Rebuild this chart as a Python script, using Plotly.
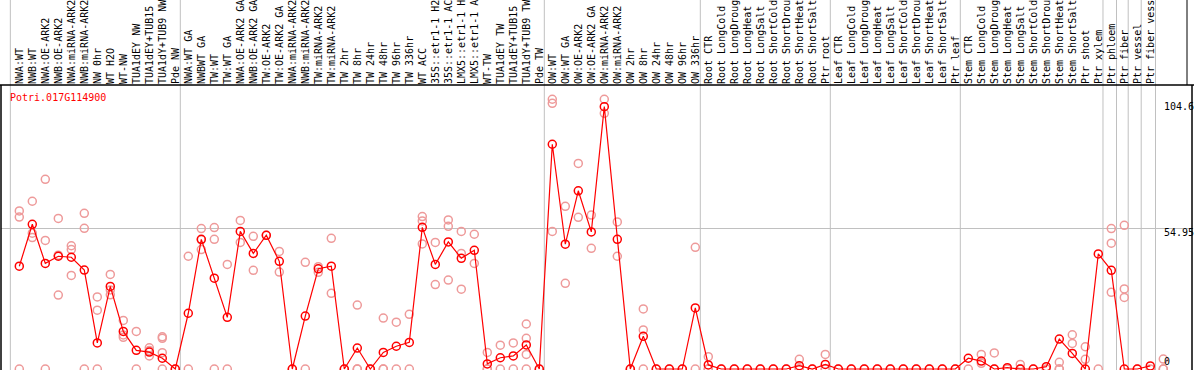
import plotly.graph_objects as go

gene = "Potri.017G114900"

samples = [
    "NWA:WT", "NWB:WT", "NWA:OE-ARK2", "NWB:OE-ARK2", "NWA:miRNA-ARK2", "NWB:miRNA-ARK2",
    "NW 0hr", "WT H2O", "WT-NW", "TUA1dEY NW", "TUA1dEY+TUB15 NW", "TUA1dY+TUB9 NW", "Pde NW",
    "NWA:WT GA", "NWBWT GA", "TW:WT", "TW:WT GA", "NWA:OE-ARK2 GA", "NWB:OE-ARK2 GA",
    "TW:OE-ARK2", "TW:OE-ARK2 GA", "NWA:miRNA-ARK2", "NWB:miRNA-ARK2", "TW:miRNA-ARK2",
    "TW:miRNA-ARK2", "TW 2hr", "TW 8hr", "TW 24hr", "TW 48hr", "TW 96hr", "TW 336hr",
    "WT ACC", "35S::etr1-1 H2O", "35S::etr1-1 ACC", "LMX5::etr1-1 H2O", "LMX5::etr1-1 ACC",
    "WT-TW", "TUA1dEY TW", "TUA1dEY+TUB15 TW", "TUA1dY+TUB9 TW", "Pde TW",
    "OW:WT", "OW:WT GA", "OW:OE-ARK2", "OW:OE-ARK2 GA", "OW:miRNA-ARK2", "OW:miRNA-ARK2",
    "OW 2hr", "OW 8hr", "OW 24hr", "OW 48hr", "OW 96hr", "OW 336hr",
    "Root CTR", "Root LongCold", "Root LongDrought", "Root LongHeat", "Root LongSalt",
    "Root ShortCold", "Root ShortDrought", "Root ShortHeat", "Root ShortSalt", "Ptr root",
    "Leaf CTR", "Leaf LongCold", "Leaf LongDrought", "Leaf LongHeat", "Leaf LongSalt",
    "Leaf ShortCold", "Leaf ShortDrought", "Leaf ShortHeat", "Leaf ShortSalt", "Ptr leaf",
    "Stem CTR", "Stem LongCold", "Stem LongDrought", "Stem LongHeat", "Stem LongSalt",
    "Stem ShortCold", "Stem ShortDrought", "Stem ShortHeat", "Stem ShortSalt", "Ptr shoot",
    "Ptr xylem", "Ptr phloem", "Ptr fiber", "Ptr vessel", "Ptr fiber vessel",
]

mean_values = [
    40.2, 56.6, 41.3, 44.1, 43.7, 38.7, 10.2, 32.3, 14.7, 7.3, 6.6, 4.2, 0,
    21.8, 50.7, 35.5, 20.2, 53.8, 45.2, 52.3, 42.1, 0, 20.7, 39.2, 40.2, 0,
    8.2, 0, 6.5, 8.9, 10.4, 55.4, 40.9, 49.7, 43.3, 46.4, 2.0, 4.4, 5.1, 9.4, 0,
    87.9, 48.8, 69.7, 53.6, 102.6, 50.7, 0, 12.8, 0, 0, 0, 23.9,
    1.6, 0, 0, 0, 0, 0, 0, 1.3, 0, 1.8,
    0, 0, 0, 0, 0, 0, 0, 0, 0, 0,
    4.2, 3.1, 0, 0.5, 0, 0, 0.9, 11.7, 6.1, 0,
    45.0, 38.6, 0, 0, 1.2,
]

replicate_values = [
    [61.8, 59.4, 0], [65.6, 53.1, 51.4], [74.2, 50.3, 0], [58.9, 28.9, 44.5],
    [48.2, 46.7, 36.6], [60.9, 55.0, 0], [28.2, 23.0, 0], [37.0, 29.0, 30.9],
    [19.0, 13.3, 12.4], [14.7, 0], [8.3, 7.2, 5.1], [12.6, 12.0, 6.4, 0], [0],
    [44.1, 0], [54.9, 46.7, 50.5], [55.3, 50.7, 0], [40.9, 0], [58.1, 49.5],
    [51.9, 38.6], [52.3], [46.0, 37.9], [0], [41.7, 0], [40.0, 37.8],
    [51.1, 29.6], [0], [25.0, 0, 0], [0], [19.9, 0, 0], [18.3, 0], [21.4, 0],
    [59.6, 57.9, 48.9], [49.5, 33.0], [58.3, 55.8, 34.8], [53.8, 45.2, 31.2],
    [52.7, 41.3], [6.5, 0, 0], [9.3, 0], [10.2, 0], [17.6, 12.0, 5.7, 0], [0],
    [105.5, 103.9, 53.8], [63.6, 33.5], [80.4, 59.3], [60.2, 47.2],
    [105.5, 100.0], [57.5, 44.1], [0], [23.5, 15.3, 0], [0], [0], [0],
    [47.6, 0], [4.8, 0, 0],
    [0], [0], [0], [0], [0], [0], [3.8, 0, 0], [0], [5.7, 0, 0], [0],
    [0], [0], [0], [0], [0], [0], [0], [0], [0], [0],
    [5.7, 2.2], [6.3, 0], [0], [1.8, 0, 0], [0], [0], [2.6, 0, 0],
    [13.4, 10.0], [8.7, 3.8], [0],
    [54.9, 49.2, 30.0], [56.2, 31.3, 28.0], [0], [0], [3.9, 0, 0],
]

y_tick_vals = [104.6, 54.95, 0]
y_tick_text = ["104.6", "54.95", "0"]

# group separators (positions between samples)
separators = [-0.69, 12.385, 40.385, 52.385, 62.385, 72.385, 83.36, 84.4, 85.3, 86.3, 87.4]

FONT = "DejaVu Sans Mono"
W, H = 1194, 370
ML, MR, MT, MB = 1, 2, 85, 0
pw = W - ML - MR
ph = H - MT - MB
px_per_unit = 13.0
x0 = -(19.3 - ML) / px_per_unit
x1 = x0 + pw / px_per_unit
ypx = 2.557
y0 = -(H - 369) / ypx
y1 = y0 + ph / ypx

x_idx = list(range(len(samples)))
rep_x, rep_y = [], []
for i, reps in enumerate(replicate_values):
    for v in reps:
        rep_x.append(i)
        rep_y.append(v)

fig = go.Figure()
fig.add_trace(go.Scatter(
    x=rep_x, y=rep_y, mode="markers",
    marker=dict(symbol="circle-open", size=8, color="#ee9a9a", line=dict(width=1.5, color="#ee9a9a")),
    hoverinfo="skip",
))
fig.add_trace(go.Scatter(
    x=x_idx, y=mean_values, mode="lines+markers",
    line=dict(color="#ff0000", width=1.2),
    marker=dict(symbol="circle-open", size=8, color="#ff0000", line=dict(width=1.5, color="#ff0000")),
))

shapes = []
top_paper = 1 + MT / ph
for s in separators:
    shapes.append(dict(type="line", xref="x", yref="paper", x0=s, x1=s, y0=0, y1=top_paper,
                       line=dict(color="#c0c0c0", width=1), layer="below"))
# black frame lines
shapes.append(dict(type="line", xref="paper", yref="paper", x0=-ML / pw, x1=1 + MR / pw, y0=1, y1=1,
                   line=dict(color="black", width=1.5)))
shapes.append(dict(type="line", xref="paper", yref="paper", x0=0, x1=0, y0=0, y1=1,
                   line=dict(color="black", width=1.5)))
shapes.append(dict(type="line", xref="paper", yref="paper", x0=1, x1=1, y0=0, y1=1,
                   line=dict(color="black", width=1.5)))
shapes.append(dict(type="line", xref="paper", yref="paper", x0=(1187 - ML) / pw, x1=(1187 - ML) / pw,
                   y0=1, y1=top_paper, line=dict(color="black", width=1)))

annotations = []
lab_x = (1163 - ML) / pw
for v, t in zip(y_tick_vals, y_tick_text):
    annotations.append(dict(
        x=lab_x, xref="paper", y=v, yref="y", text=t, showarrow=False,
        xanchor="left", yanchor="bottom" if v == 0 else "top",
        yshift=1 if v == 0 else 2, borderpad=0,
        font=dict(family=FONT, size=10, color="black"),
    ))
annotations.append(dict(
    x=(9 - ML) / pw, xref="paper", y=1 - (97.3 - MT) / ph, yref="paper", text=gene,
    showarrow=False, xanchor="left", yanchor="middle", borderpad=0,
    font=dict(family=FONT, size=10, color="#ff0000"),
))

fig.update_layout(
    width=W, height=H,
    margin=dict(l=ML, r=MR, t=MT, b=MB, pad=0, autoexpand=False),
    paper_bgcolor="white", plot_bgcolor="white",
    showlegend=False,
    shapes=shapes, annotations=annotations,
    xaxis=dict(
        range=[x0, x1], tickmode="array", tickvals=x_idx, ticktext=samples,
        side="top", tickangle=-90, ticks="", showgrid=False, zeroline=False,
        showline=False, automargin=False,
        tickfont=dict(family=FONT, size=10, color="black"),
    ),
    yaxis=dict(
        range=[y0, y1], tickmode="array", tickvals=[y_tick_vals[1]], showticklabels=False,
        showgrid=True, gridcolor="#c0c0c0", gridwidth=1, zeroline=False, showline=False,
        ticks="", automargin=False,
    ),
)

fig.write_html(
    "out.html",
    config={"displayModeBar": False},
    post_script="document.body.style.margin='0';document.body.style.padding='0';"
                "document.body.style.overflow='hidden';",
)
